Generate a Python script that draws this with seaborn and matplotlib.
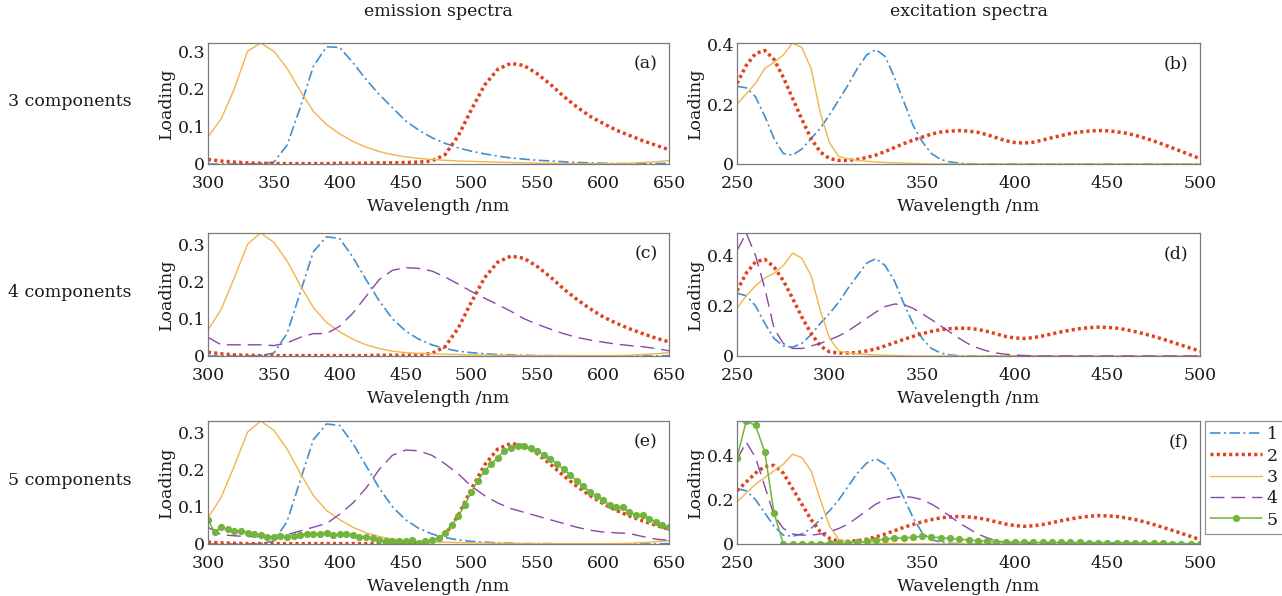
import numpy as np
import matplotlib
matplotlib.use("Agg")
import matplotlib.pyplot as plt
from matplotlib.ticker import FuncFormatter
import seaborn as sns

# ---------------- data ----------------
# emission wavelengths (nm)
em_wl10 = np.arange(300, 651, 10)
em_wl5 = np.arange(300, 651, 5)
# excitation wavelengths (nm)
ex_wl = np.arange(250, 501, 5)

# 3-component model, emission loadings
em3_c1 = [0, 0, 0, 0, 0.001, 0.005, 0.05, 0.15, 0.26, 0.312, 0.31, 0.27, 0.225, 0.185, 0.15, 0.115,
          0.09, 0.07, 0.055, 0.043, 0.034, 0.027, 0.021, 0.016, 0.013, 0.01, 0.008, 0.006, 0.004, 0.003,
          0.002, 0.001, 0.001, 0.001, 0.001, 0.002]
em3_c2 = [0.012, 0.008, 0.005, 0.003, 0.002, 0.001, 0.001, 0.001, 0.001, 0.001, 0.002, 0.002, 0.002,
          0.003, 0.003, 0.004, 0.005, 0.008, 0.025, 0.075, 0.145, 0.21, 0.252, 0.268, 0.262, 0.24, 0.212,
          0.18, 0.152, 0.127, 0.108, 0.09, 0.076, 0.062, 0.05, 0.038]
em3_c3 = [0.072, 0.12, 0.2, 0.3, 0.322, 0.30, 0.255, 0.195, 0.14, 0.105, 0.08, 0.06, 0.045, 0.033, 0.025,
          0.019, 0.015, 0.012, 0.01, 0.008, 0.007, 0.006, 0.005, 0.004, 0.003, 0.002, 0.002, 0.001, 0.001,
          0.001, 0.001, 0.001, 0.002, 0.004, 0.006, 0.009]

# 4-component model, emission loadings
em4_c1 = [0, 0, 0, 0, 0.001, 0.008, 0.06, 0.17, 0.28, 0.32, 0.315, 0.265, 0.205, 0.148, 0.1, 0.067,
          0.045, 0.03, 0.02, 0.013, 0.009, 0.006, 0.004, 0.003, 0.002, 0.001, 0.001, 0.001, 0, 0, 0, 0, 0,
          0, 0, 0.001]
em4_c2 = [0.01, 0.006, 0.003, 0.002, 0.001, 0.001, 0.001, 0.001, 0.001, 0.001, 0.001, 0.001, 0.001,
          0.002, 0.002, 0.002, 0.003, 0.007, 0.025, 0.075, 0.145, 0.21, 0.252, 0.268, 0.262, 0.24, 0.212,
          0.18, 0.152, 0.127, 0.105, 0.088, 0.073, 0.06, 0.048, 0.038]
em4_c3 = [0.07, 0.125, 0.21, 0.3, 0.33, 0.305, 0.255, 0.19, 0.13, 0.09, 0.065, 0.045, 0.03, 0.02, 0.013,
          0.009, 0.007, 0.006, 0.005, 0.004, 0.003, 0.003, 0.002, 0.002, 0.001, 0.001, 0.001, 0.001, 0.001,
          0.001, 0.001, 0.001, 0.002, 0.004, 0.006, 0.009]
em4_c4 = [0.05, 0.03, 0.03, 0.03, 0.03, 0.028, 0.035, 0.05, 0.06, 0.06, 0.08, 0.115, 0.16, 0.205, 0.23,
          0.237, 0.235, 0.228, 0.212, 0.193, 0.173, 0.155, 0.138, 0.12, 0.1, 0.085, 0.072, 0.06, 0.05,
          0.043, 0.037, 0.032, 0.028, 0.025, 0.02, 0.014]

# 5-component model, emission loadings
em5_c1 = [0, 0, 0, 0, 0.001, 0.008, 0.06, 0.17, 0.28, 0.322, 0.318, 0.27, 0.21, 0.15, 0.1, 0.065,
          0.042, 0.027, 0.017, 0.011, 0.007, 0.005, 0.003, 0.002, 0.001, 0.001, 0.001, 0, 0, 0, 0, 0, 0,
          0, 0, 0.001]
em5_c2 = [0.005, 0.003, 0.002, 0.001, 0.001, 0.001, 0.001, 0.001, 0.001, 0.001, 0.001, 0.001, 0.001,
          0.001, 0.001, 0.002, 0.003, 0.007, 0.025, 0.077, 0.148, 0.212, 0.255, 0.27, 0.263, 0.242, 0.214,
          0.183, 0.155, 0.13, 0.108, 0.09, 0.075, 0.062, 0.05, 0.04]
em5_c3 = [0.07, 0.125, 0.21, 0.3, 0.33, 0.305, 0.255, 0.19, 0.13, 0.09, 0.065, 0.045, 0.03, 0.02, 0.013,
          0.009, 0.007, 0.006, 0.005, 0.004, 0.003, 0.003, 0.002, 0.002, 0.001, 0.001, 0.001, 0.001, 0.001,
          0.001, 0.001, 0.001, 0.002, 0.004, 0.006, 0.009]
em5_c4 = [0.045, 0.025, 0.022, 0.02, 0.02, 0.02, 0.025, 0.035, 0.045, 0.055, 0.08, 0.11, 0.15, 0.2, 0.238,
          0.252, 0.25, 0.238, 0.215, 0.188, 0.155, 0.13, 0.11, 0.095, 0.085, 0.075, 0.065, 0.055, 0.045,
          0.037, 0.032, 0.03, 0.028, 0.02, 0.013, 0.01]
em5_c5 = [0.065, 0.032, 0.045, 0.04, 0.035, 0.035, 0.03, 0.028, 0.025, 0.02, 0.018, 0.022, 0.02, 0.022,
          0.025, 0.027, 0.028, 0.028, 0.03, 0.025, 0.027, 0.027, 0.025, 0.02, 0.018, 0.015, 0.012, 0.008,
          0.007, 0.008, 0.007, 0.01, 0.004, 0.007, 0.01, 0.015, 0.03, 0.05, 0.075, 0.105, 0.14, 0.17,
          0.196, 0.215, 0.232, 0.25, 0.258, 0.262, 0.262, 0.258, 0.25, 0.24, 0.228, 0.215, 0.2, 0.185,
          0.17, 0.155, 0.14, 0.128, 0.117, 0.105, 0.098, 0.098, 0.085, 0.078, 0.078, 0.068, 0.06, 0.05,
          0.045]

# 3-component model, excitation loadings
ex3_c1 = [0.26, 0.255, 0.225, 0.16, 0.085, 0.035, 0.03, 0.05, 0.085, 0.12, 0.165, 0.215, 0.265, 0.32,
          0.365, 0.383, 0.36, 0.29, 0.21, 0.13, 0.075, 0.035, 0.015, 0.007, 0.003, 0.001] + [0] * 25
ex3_c2 = [0.27, 0.33, 0.37, 0.38, 0.35, 0.29, 0.22, 0.15, 0.085, 0.04, 0.018, 0.012, 0.012, 0.015, 0.022,
          0.03, 0.042, 0.055, 0.068, 0.08, 0.09, 0.1, 0.107, 0.11, 0.112, 0.11, 0.106, 0.098, 0.088, 0.078,
          0.072, 0.07, 0.073, 0.08, 0.088, 0.095, 0.102, 0.107, 0.11, 0.112, 0.111, 0.108, 0.103, 0.096,
          0.087, 0.077, 0.066, 0.054, 0.042, 0.03, 0.018]
ex3_c3 = [0.2, 0.235, 0.27, 0.32, 0.34, 0.365, 0.405, 0.39, 0.32, 0.17, 0.07, 0.025, 0.017, 0.012, 0.009,
          0.007, 0.005, 0.004, 0.003, 0.002, 0.001] + [0] * 30

# 4-component model, excitation loadings
ex4_c1 = [0.25, 0.24, 0.2, 0.13, 0.07, 0.04, 0.035, 0.05, 0.085, 0.13, 0.17, 0.215, 0.27, 0.32, 0.37,
          0.388, 0.36, 0.3, 0.21, 0.13, 0.07, 0.03, 0.012, 0.004, 0.001] + [0] * 26
ex4_c2 = [0.26, 0.33, 0.375, 0.385, 0.355, 0.3, 0.23, 0.155, 0.09, 0.04, 0.016, 0.012, 0.012, 0.014,
          0.02, 0.028, 0.04, 0.053, 0.066, 0.078, 0.089, 0.098, 0.105, 0.109, 0.111, 0.11, 0.106, 0.098,
          0.088, 0.078, 0.072, 0.07, 0.073, 0.08, 0.088, 0.096, 0.103, 0.109, 0.113, 0.115, 0.114, 0.111,
          0.105, 0.097, 0.088, 0.078, 0.067, 0.055, 0.043, 0.031, 0.019]
ex4_c3 = [0.19, 0.24, 0.28, 0.31, 0.33, 0.36, 0.41, 0.39, 0.32, 0.18, 0.07, 0.02, 0.012, 0.008, 0.006,
          0.004, 0.003, 0.002, 0.001] + [0] * 32
ex4_c4 = [0.42, 0.49, 0.4, 0.27, 0.11, 0.05, 0.03, 0.03, 0.04, 0.05, 0.065, 0.08, 0.1, 0.125, 0.15, 0.175,
          0.197, 0.207, 0.205, 0.19, 0.168, 0.145, 0.12, 0.095, 0.07, 0.048, 0.032, 0.02, 0.012, 0.007,
          0.004, 0.002, 0.001] + [0] * 18

# 5-component model, excitation loadings
ex5_c1 = [0.25, 0.24, 0.2, 0.14, 0.08, 0.04, 0.035, 0.045, 0.07, 0.11, 0.15, 0.2, 0.26, 0.32, 0.365,
          0.385, 0.36, 0.3, 0.21, 0.12, 0.05, 0.02, 0.008, 0.003, 0.001] + [0] * 26
ex5_c2 = [0.24, 0.28, 0.32, 0.35, 0.355, 0.32, 0.25, 0.18, 0.11, 0.055, 0.025, 0.012, 0.012, 0.015, 0.022,
          0.032, 0.045, 0.06, 0.075, 0.088, 0.1, 0.11, 0.118, 0.122, 0.124, 0.122, 0.118, 0.11, 0.1, 0.09,
          0.083, 0.08, 0.082, 0.088, 0.096, 0.105, 0.113, 0.12, 0.125, 0.128, 0.127, 0.124, 0.118, 0.11,
          0.1, 0.088, 0.075, 0.062, 0.048, 0.034, 0.02]
ex5_c3 = [0.19, 0.23, 0.27, 0.3, 0.33, 0.36, 0.405, 0.39, 0.33, 0.2, 0.08, 0.02, 0.01, 0.007, 0.005,
          0.004, 0.003, 0.002, 0.001] + [0] * 32
ex5_c4 = [0.38, 0.46, 0.39, 0.26, 0.13, 0.07, 0.045, 0.04, 0.04, 0.045, 0.055, 0.07, 0.09, 0.12, 0.15,
          0.18, 0.2, 0.21, 0.215, 0.21, 0.2, 0.18, 0.155, 0.125, 0.095, 0.07, 0.045, 0.028, 0.015, 0.008,
          0.005, 0.003, 0.001] + [0] * 18
ex5_c5 = [0.39, 0.555, 0.535, 0.415, 0.14, 0.0, 0.0, 0.0, 0.0, 0.002, 0.003, 0.004, 0.005, 0.008, 0.012,
          0.016, 0.022, 0.026, 0.028, 0.03, 0.035, 0.032, 0.028, 0.025, 0.022, 0.018, 0.015, 0.012, 0.01,
          0.009, 0.008, 0.007, 0.007, 0.007, 0.007, 0.007, 0.007, 0.007, 0.006, 0.006, 0.006, 0.006, 0.005,
          0.005, 0.004, 0.004, 0.003, 0.002, 0.002, 0.001, 0.001]

row_labels = ["3 components", "4 components", "5 components"]
col_titles = ["emission spectra", "excitation spectra"]
panel_tags = ["(a)", "(b)", "(c)", "(d)", "(e)", "(f)"]
legend_labels = ["1", "2", "3", "4", "5"]

# ---------------- styling ----------------
sns.set_theme(style="white")
plt.rcParams["font.family"] = ["DejaVu Serif"]
plt.rcParams["mathtext.fontset"] = "dejavuserif"
plt.rcParams["lines.scale_dashes"] = False

FS = 12.5
TXT = "#1a1a1a"
SPINE = "#7a7a7a"

styles = {
    1: dict(color="#3f8fd2", lw=1.2, linestyle=(0, (7.5, 2.5, 1.5, 2.5))),
    2: dict(color="#e2401c", lw=2.5, linestyle=(0, (2.2, 2.3))),
    3: dict(color="#f1b54a", lw=1.0, linestyle="-"),
    4: dict(color="#8a46a6", lw=1.0, linestyle=(0, (10, 5))),
    5: dict(color="#72b43e", lw=1.1, linestyle="-", marker="o", markersize=5.2,
            markeredgewidth=0),
}

W, H = 1282, 596
fig = plt.figure(figsize=(W / 100, H / 100), dpi=100)
fig.patch.set_facecolor("white")


def px_rect(left, top, right, bottom):
    return [left / W, 1 - bottom / H, (right - left) / W, (bottom - top) / H]


col_x = [(208, 669), (737, 1200)]
row_y = [(43, 164), (233, 356), (421, 544)]

panels = [
    [(em_wl10, em3_c1), (em_wl10, em3_c2), (em_wl10, em3_c3)],
    [(ex_wl, ex3_c1), (ex_wl, ex3_c2), (ex_wl, ex3_c3)],
    [(em_wl10, em4_c1), (em_wl10, em4_c2), (em_wl10, em4_c3), (em_wl10, em4_c4)],
    [(ex_wl, ex4_c1), (ex_wl, ex4_c2), (ex_wl, ex4_c3), (ex_wl, ex4_c4)],
    [(em_wl10, em5_c1), (em_wl10, em5_c2), (em_wl10, em5_c3), (em_wl10, em5_c4), (em_wl5, em5_c5)],
    [(ex_wl, ex5_c1), (ex_wl, ex5_c2), (ex_wl, ex5_c3), (ex_wl, ex5_c4), (ex_wl, ex5_c5)],
]

fmt = FuncFormatter(lambda v, p: f"{v:g}")
axes = []
for i, series in enumerate(panels):
    r, c = divmod(i, 2)
    ax = fig.add_axes(px_rect(col_x[c][0], row_y[r][0], col_x[c][1], row_y[r][1]))
    axes.append(ax)
    ymax = 0
    for k, (wl, vals) in enumerate(series, start=1):
        sns.lineplot(x=wl, y=np.asarray(vals, dtype=float), ax=ax, estimator=None, sort=False,
                     label=legend_labels[k - 1], legend=False, **styles[k])
        ymax = max(ymax, max(vals))
    if c == 0:
        ax.set_xlim(300, 650)
        ax.set_xticks(np.arange(300, 651, 50))
        ax.set_yticks([0, 0.1, 0.2, 0.3])
    else:
        ax.set_xlim(250, 500)
        ax.set_xticks(np.arange(250, 501, 50))
        ax.set_yticks([0, 0.2, 0.4])
    ax.set_ylim(0, ymax)
    ax.yaxis.set_major_formatter(fmt)
    ax.tick_params(direction="in", length=3, width=0.7, color=SPINE, labelsize=FS,
                   labelcolor=TXT)
    ax.tick_params(axis="x", pad=8)
    ax.tick_params(axis="y", pad=2)
    for s in ax.spines.values():
        s.set_color(SPINE)
        s.set_linewidth(0.9)
    ax.set_xlabel("Wavelength /nm", fontsize=FS, color=TXT, labelpad=4)
    ax.set_ylabel("Loading", fontsize=FS, color=TXT, labelpad=2)
    ax.text(0.975, 0.83, panel_tags[i], transform=ax.transAxes, ha="right", va="center",
            fontsize=FS, color=TXT)
    ax.set_facecolor("white")

for c, t in enumerate(col_titles):
    x0, x1 = col_x[c]
    fig.text((x0 + x1) / 2 / W, 1 - 12 / H, t, ha="center", va="center", fontsize=FS, color=TXT)

for r, t in enumerate(row_labels):
    y0, y1 = row_y[r]
    fig.text(8 / W, 1 - ((y0 + y1) / 2 - 2) / H, t, ha="left", va="center", fontsize=FS, color=TXT)

handles, labels = axes[5].get_legend_handles_labels()
leg = fig.legend(handles, labels, loc="upper left", bbox_to_anchor=(1205 / W, 1 - 421 / H),
                 frameon=True, fancybox=False, fontsize=FS, handlelength=3.0, handletextpad=0.25,
                 borderpad=0.3, labelspacing=0.25, borderaxespad=0)
leg.get_frame().set_edgecolor(SPINE)
leg.get_frame().set_linewidth(0.9)
for t in leg.get_texts():
    t.set_color(TXT)

fig.savefig("out.png", dpi=100, facecolor="white")
